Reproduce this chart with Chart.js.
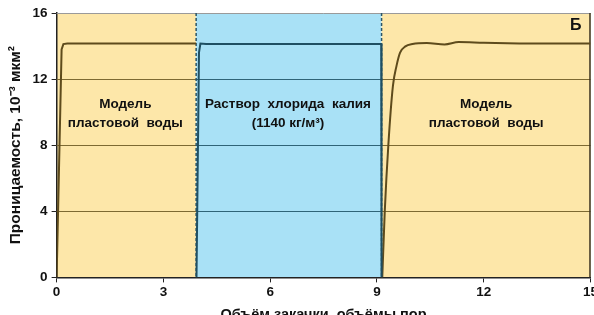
<!DOCTYPE html>
<html>
<head>
<meta charset="utf-8">
<script src="https://cdn.jsdelivr.net/npm/chart.js@4/dist/chart.umd.min.js"></script>
<style>
  html, body { margin: 0; padding: 0; background: #fff; overflow: hidden; }
  #wrap { width: 600px; height: 324px; }
</style>
</head>
<body>
<div id="wrap"><canvas id="c" width="600" height="324"></canvas></div>
<script>
// injection zones (pore volumes) and their labels
const zoneStarts = [0, 3.92, 9.13]
const zoneEnds = [3.92, 9.13, 15]
const zoneColors = ['#fde7a9', '#a9e1f6']
const zoneLabels = [
  ['Модель', 'пластовой  воды'],
  ['Раствор  хлорида  калия', '(1140 кг/м³)'],
  ['Модель', 'пластовой  воды']
]
const zoneLabelX = [1.93, 6.5, 12.07]

// permeability curve, 10^-3 um2
const seg1X = [0, 0.14, 0.19, 0.3, 1.5, 3, 3.92]
const seg1Y = [0, 13.8, 14.12, 14.15, 14.15, 14.15, 14.15]
const seg2X = [3.93, 4.0, 4.04, 4.2, 5.5, 7, 8.5, 9.12, 9.13]
const seg2Y = [0, 13.6, 14.15, 14.12, 14.12, 14.12, 14.12, 14.12, 0]
const seg3X = [9.15, 9.22, 9.32, 9.45, 9.55, 9.65, 9.8, 10.0, 10.4, 10.9, 11.3, 12, 13, 14, 15]
const seg3Y = [0, 4, 8, 11.6, 12.8, 13.6, 13.98, 14.12, 14.18, 14.1, 14.24, 14.2, 14.16, 14.15, 14.15]

const xTicks = [0, 3, 6, 9, 12, 15]
const yTicks = [0, 4, 8, 12, 16]

const pts = (xs, ys) => xs.map((x, i) => ({ x: x, y: ys[i] }))
const FONT = '"Liberation Sans", Arial, sans-serif'

const zonesPlugin = {
  id: 'zones',
  beforeDraw(chart) {
    const { ctx, chartArea: a, scales: { x } } = chart
    ctx.save()
    zoneStarts.forEach((s, i) => {
      const x0 = x.getPixelForValue(s)
      const x1 = x.getPixelForValue(zoneEnds[i])
      ctx.fillStyle = zoneColors[i % 2]
      ctx.fillRect(x0, a.top, x1 - x0, a.bottom - a.top)
    })
    ctx.restore()
  },
  beforeDatasetsDraw(chart) {
    const { ctx, chartArea: a, scales: { x, y } } = chart
    ctx.save()
    // grid lines, tinted per zone
    zoneStarts.forEach((s, i) => {
      const x0 = x.getPixelForValue(s)
      const x1 = x.getPixelForValue(zoneEnds[i])
      ctx.strokeStyle = i % 2 ? '#2f6478' : '#7d6a32'
      ctx.lineWidth = 1.2
      yTicks.slice(1, -1).forEach((t) => {
        const py = Math.round(y.getPixelForValue(t)) + 0.5
        ctx.beginPath()
        ctx.moveTo(x0, py)
        ctx.lineTo(x1, py)
        ctx.stroke()
      })
    })
    // frame top / right
    ctx.strokeStyle = '#9a9a9a'
    ctx.lineWidth = 1
    ctx.beginPath()
    ctx.moveTo(a.left, a.top + 0.5)
    ctx.lineTo(a.right, a.top + 0.5)
    ctx.stroke()
    ctx.strokeStyle = '#3a3320'
    ctx.lineWidth = 1.5
    ctx.beginPath()
    ctx.moveTo(a.right - 0.5, a.top)
    ctx.lineTo(a.right - 0.5, a.bottom)
    ctx.stroke()
    // dashed zone borders
    ctx.strokeStyle = '#2b5566'
    ctx.lineWidth = 1.5
    ctx.setLineDash([3, 2])
    ;[zoneEnds[0], zoneEnds[1]].forEach((v) => {
      const px = x.getPixelForValue(v)
      ctx.beginPath()
      ctx.moveTo(px, a.top)
      ctx.lineTo(px, a.bottom)
      ctx.stroke()
    })
    ctx.restore()
  },
  afterDatasetsDraw(chart) {
    const { ctx, chartArea: a, scales: { x, y } } = chart
    ctx.save()
    ctx.fillStyle = '#111'
    ctx.font = 'bold 13.5px ' + FONT
    ctx.textAlign = 'center'
    ctx.textBaseline = 'middle'
    zoneLabels.forEach((lines, i) => {
      const px = x.getPixelForValue(zoneLabelX[i])
      ctx.fillText(lines[0], px, y.getPixelForValue(10.45))
      ctx.fillText(lines[1], px, y.getPixelForValue(9.3))
    })
    ctx.font = 'bold 16px ' + FONT
    ctx.textAlign = 'right'
    ctx.fillText('Б', a.right - 9, a.top + 13)
    ctx.restore()
  }
}

const tickFont = { family: FONT, size: 13.5, weight: 'bold' }

new Chart(document.getElementById('c'), {
  type: 'line',
  data: {
    datasets: [
      { data: pts(seg1X, seg1Y), borderColor: '#5e4b1c', borderWidth: 2, pointRadius: 0, tension: 0 },
      { data: pts(seg2X, seg2Y), borderColor: '#1f4f62', borderWidth: 2, pointRadius: 0, tension: 0 },
      { data: pts(seg3X, seg3Y), borderColor: '#5e4b1c', borderWidth: 2, pointRadius: 0, cubicInterpolationMode: 'monotone' }
    ]
  },
  options: {
    responsive: false,
    animation: false,
    layout: { padding: { top: 13, right: 0, left: 6, bottom: 0 } },
    plugins: { legend: { display: false }, tooltip: { enabled: false } },
    scales: {
      x: {
        type: 'linear',
        min: 0,
        max: 15,
        afterBuildTicks: (s) => { s.ticks = xTicks.map((v) => ({ value: v })) },
        ticks: { color: '#111', font: tickFont, padding: 2, maxRotation: 0 },
        grid: { drawOnChartArea: false, drawTicks: true, tickLength: 5, color: '#222' },
        border: { color: '#222', width: 1.5 },
        title: {
          display: true,
          text: 'Объём закачки, объёмы пор',
          color: '#111',
          font: { family: FONT, size: 14.5, weight: 'bold' },
          padding: { top: 4, bottom: 0 }
        }
      },
      y: {
        min: 0,
        max: 16,
        afterBuildTicks: (s) => { s.ticks = yTicks.map((v) => ({ value: v })) },
        ticks: { color: '#111', font: tickFont, padding: 4 },
        grid: { drawOnChartArea: false, drawTicks: true, tickLength: 5, color: '#222' },
        border: { color: '#222', width: 1.5 },
        title: {
          display: true,
          text: 'Проницаемость, 10⁻³ мкм²',
          color: '#111',
          font: { family: FONT, size: 15.5, weight: 'bold' },
          padding: { top: 0, bottom: 4 }
        }
      }
    }
  },
  plugins: [zonesPlugin]
})
</script>
</body>
</html>
